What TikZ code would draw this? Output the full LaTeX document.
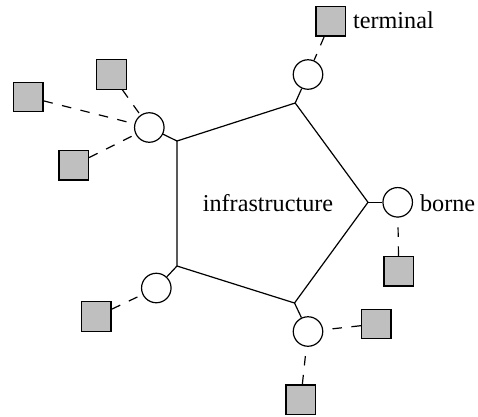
\documentclass[tikz,border=0pt]{standalone}
\usepackage{fontspec}
\setmainfont{Liberation Serif}
\begin{document}
\begin{tikzpicture}[x=1pt,y=-1pt,line width=1.2pt,
  hub/.style={circle,draw,fill=white,minimum size=29.5pt,inner sep=0pt},
  term/.style={rectangle,draw,fill=lightgray,minimum size=29.5pt,inner sep=0pt},
  link/.style={dash pattern=on 9.5pt off 9.5pt},
  lbl/.style={inner sep=0pt,font=\fontsize{24.2}{28}\selectfont}]
\useasboundingbox (0,0) rectangle (478,416);
% pentagon vertices
\coordinate (p1) at (295.2,103);
\coordinate (p2) at (177,141);
\coordinate (p3) at (177,266);
\coordinate (p4) at (294.5,303);
\coordinate (p5) at (368,202.3);
\draw (p1) -- (p2) -- (p3) -- (p4) -- (p5) -- cycle;
\node[lbl,anchor=base] (infra) at (268,211) {infrastructure};
% hubs
\node[hub] (c1) at (308,74.5) {};
\node[hub] (c2) at (149.3,127.5) {};
\node[hub] (c3) at (156.3,288) {};
\node[hub] (c4) at (308,331.5) {};
\node[hub] (c5) at (397.7,202.3) {};
\draw (p1) -- (c1);
\draw (p2) -- (c2);
\draw (p3) -- (c3);
\draw (p4) -- (c4);
\draw (p5) -- (c5);
% terminals
\node[term] (t1) at (330.8,21.2) {};
\node[term] (t2) at (28.2,97) {};
\node[term] (t3) at (111.5,74.5) {};
\node[term] (t4) at (73.7,165.2) {};
\node[term] (t5) at (96.3,316.5) {};
\node[term] (t6) at (376.2,324) {};
\node[term] (t7) at (300.7,399.7) {};
\node[term] (t8) at (398.7,271.3) {};
\draw[link] (t1) -- (c1);
\draw[link] (t2) -- (c2);
\draw[link] (t3) -- (c2);
\draw[link] (t4) -- (c2);
\draw[link] (t5) -- (c3);
\draw[link] (t6) -- (c4);
\draw[link] (t7) -- (c4);
\draw[link] (t8) -- (c5);
% labels
\node[lbl,anchor=base west] (lterm) at (352.5,28.3) {terminal};
\node[lbl,anchor=base west] (lborne) at (419.5,211) {borne};
\end{tikzpicture}
\end{document}
